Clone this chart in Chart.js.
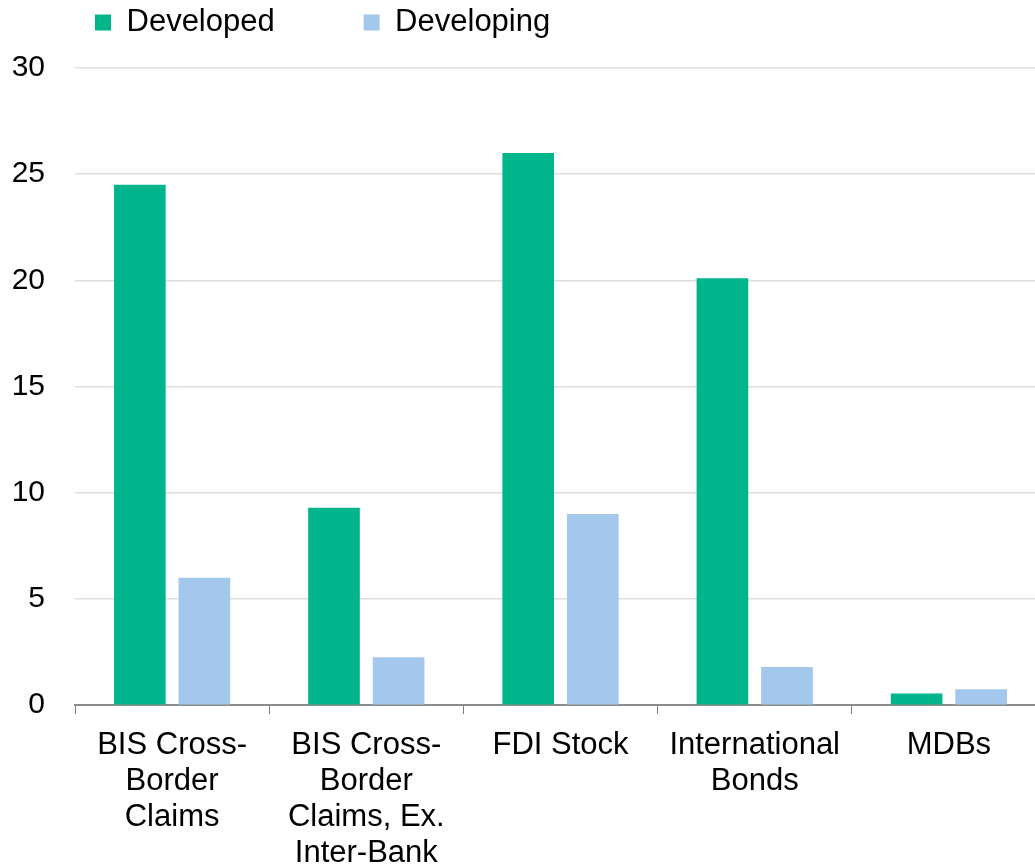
<!DOCTYPE html>
<html>
<head>
<meta charset="utf-8">
<script src="https://cdn.jsdelivr.net/npm/chart.js@4.4.1/dist/chart.umd.min.js"></script>
<style>
  html, body { margin: 0; padding: 0; background: #fff; overflow: hidden; }
  #wrap { width: 1035px; height: 866px; overflow: hidden; }
</style>
</head>
<body>
<div id="wrap"><canvas id="myChart" width="1046" height="884"></canvas></div>
<script>
const categories = [
    ["BIS Cross-", "Border", "Claims"],
    ["BIS Cross-", "Border", "Claims, Ex.", "Inter-Bank"],
    ["FDI Stock"],
    ["International", "Bonds"],
    ["MDBs"]
];
const developed = [24.5, 9.3, 26.0, 20.1, 0.55];
const developing = [6.0, 2.25, 9.0, 1.8, 0.75];
const yTicks = [0, 5, 10, 15, 20, 25, 30];

const seriesColors = ["#00b58c", "#a3c8eb"];
const fontFamily = "'Liberation Sans', Arial, sans-serif";

// legend needs some extra room under it before the plot starts
const legendSpacer = {
    id: "legendSpacer",
    beforeInit(chart) {
        const origFit = chart.legend.fit;
        chart.legend.fit = function () {
            origFit.bind(chart.legend)();
            this.height += 20;
        };
    }
};

new Chart("myChart", {
    type: "bar",
    data: {
        labels: categories,
        datasets: [{
            label: "Developed",
            backgroundColor: seriesColors[0],
            data: developed
        }, {
            label: "Developing",
            backgroundColor: seriesColors[1],
            data: developing
        }]
    },
    options: {
        responsive: false,
        animation: false,
        categoryPercentage: 0.665,
        barPercentage: 0.8,
        layout: { padding: { left: 12, top: -13, right: 0, bottom: 0 } },
        plugins: {
            tooltip: { enabled: false },
            legend: {
                position: "top",
                align: "start",
                fullSize: false,
                labels: {
                    boxWidth: 16,
                    boxHeight: 16,
                    padding: 20,
                    color: "#000",
                    font: { family: fontFamily, size: 31 },
                    generateLabels(chart) {
                        const items = Chart.defaults.plugins.legend.labels.generateLabels(chart);
                        items[0].text = items[0].text + "        ";
                        items.forEach(it => { it.lineWidth = 0; });
                        return items;
                    }
                }
            }
        },
        scales: {
            x: {
                offset: true,
                grid: {
                    display: true,
                    drawOnChartArea: false,
                    drawTicks: true,
                    tickLength: 9,
                    color: "#7f7f7f",
                    offset: true
                },
                border: { display: true, color: "#8c8c8c", width: 2 },
                ticks: {
                    color: "#000",
                    font: { family: fontFamily, size: 31, lineHeight: 1.16 },
                    padding: 13,
                    maxRotation: 0,
                    autoSkip: false
                }
            },
            y: {
                min: 0,
                max: 30,
                afterBuildTicks(axis) {
                    axis.ticks = yTicks.map(v => ({ value: v }));
                },
                afterFit(axis) {
                    axis.width = 63;
                },
                grid: {
                    color: "#dedede",
                    lineWidth: 1.5,
                    drawTicks: false
                },
                border: { display: false },
                ticks: {
                    color: "#000",
                    font: { family: fontFamily, size: 30 },
                    padding: 30
                }
            }
        }
    },
    plugins: [legendSpacer]
});
</script>
</body>
</html>
